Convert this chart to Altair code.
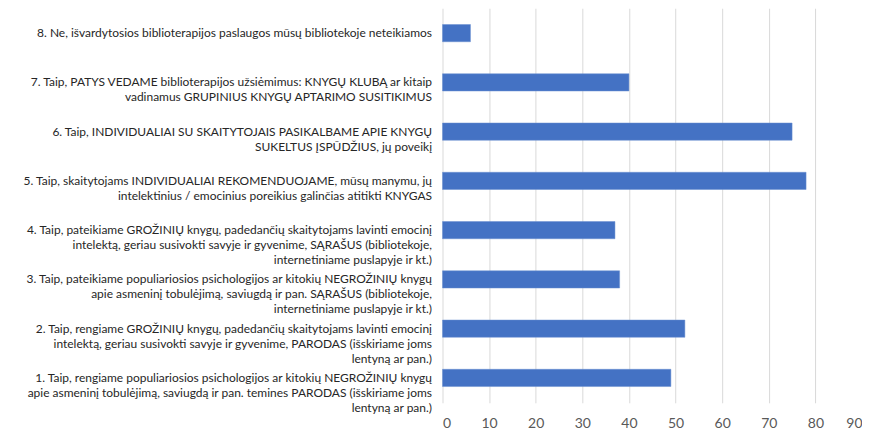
import altair as alt
import pandas as pd

categories = [
    "8. Ne, išvardytosios biblioterapijos paslaugos mūsų bibliotekoje neteikiamos",
    "7. Taip, PATYS VEDAME biblioterapijos užsiėmimus:  KNYGŲ KLUBĄ ar kitaip|vadinamus GRUPINIUS KNYGŲ APTARIMO SUSITIKIMUS",
    "6. Taip, INDIVIDUALIAI SU SKAITYTOJAIS PASIKALBAME APIE KNYGŲ|SUKELTUS ĮSPŪDŽIUS, jų poveikį",
    "5. Taip, skaitytojams INDIVIDUALIAI REKOMENDUOJAME, mūsų manymu, jų|intelektinius / emocinius poreikius galinčias atitikti KNYGAS",
    "4. Taip, pateikiame GROŽINIŲ knygų, padedančių skaitytojams lavinti emocinį|intelektą, geriau susivokti savyje ir gyvenime, SĄRAŠUS (bibliotekoje,|internetiniame puslapyje ir kt.)",
    "3. Taip, pateikiame populiariosios psichologijos ar kitokių NEGROŽINIŲ knygų|apie asmeninį tobulėjimą, saviugdą ir pan. SĄRAŠUS (bibliotekoje,|internetiniame puslapyje ir kt.)",
    "2. Taip, rengiame GROŽINIŲ knygų, padedančių skaitytojams lavinti emocinį|intelektą, geriau susivokti savyje ir gyvenime, PARODAS (išskiriame joms|lentyną ar pan.)",
    "1. Taip, rengiame populiariosios psichologijos ar kitokių NEGROŽINIŲ knygų|apie asmeninį tobulėjimą, saviugdą ir pan. temines PARODAS (išskiriame joms|lentyną ar pan.)",
]
values = [6, 40, 75, 78, 37, 38, 52, 49]
x_ticks = [0, 10, 20, 30, 40, 50, 60, 70, 80, 90]

df = pd.DataFrame({"cat": categories, "value": values})

chart = (
    alt.Chart(df)
    .mark_bar(color="#4472C4", stroke="#6a8fd0", strokeWidth=0.5)
    .encode(
        x=alt.X(
            "value:Q",
            scale=alt.Scale(domain=[0, 90], nice=False),
            axis=alt.Axis(
                values=x_ticks,
                title=None,
                domain=False,
                ticks=False,
                grid=True,
                gridColor="#d9d9d9",
                gridWidth=1,
                labelFont="Lato",
                labelFontSize=14,
                labelColor="#595959",
                labelPadding=14,
            ),
        ),
        y=alt.Y(
            "cat:N",
            sort=categories,
            scale=alt.Scale(paddingInner=0.65, paddingOuter=0.33),
            axis=alt.Axis(
                title=None,
                domain=False,
                ticks=False,
                labelExpr="split(datum.label, '|')",
                labelFont="Lato",
                labelFontSize=12,
                labelColor="#262626",
                labelLineHeight=15,
                labelLimit=0,
                labelPadding=11,
                labelAlign="right",
                labelBaseline="middle",
            ),
        ),
    )
    .properties(
        width=420,
        height=395,
        autosize=alt.AutoSizeParams(type="none"),
        padding={"left": 435, "top": 0, "right": 0, "bottom": 30},
    )
    .configure_view(stroke=None)
)

chart.save("out.html", embed_options={"renderer": "svg", "actions": False})
